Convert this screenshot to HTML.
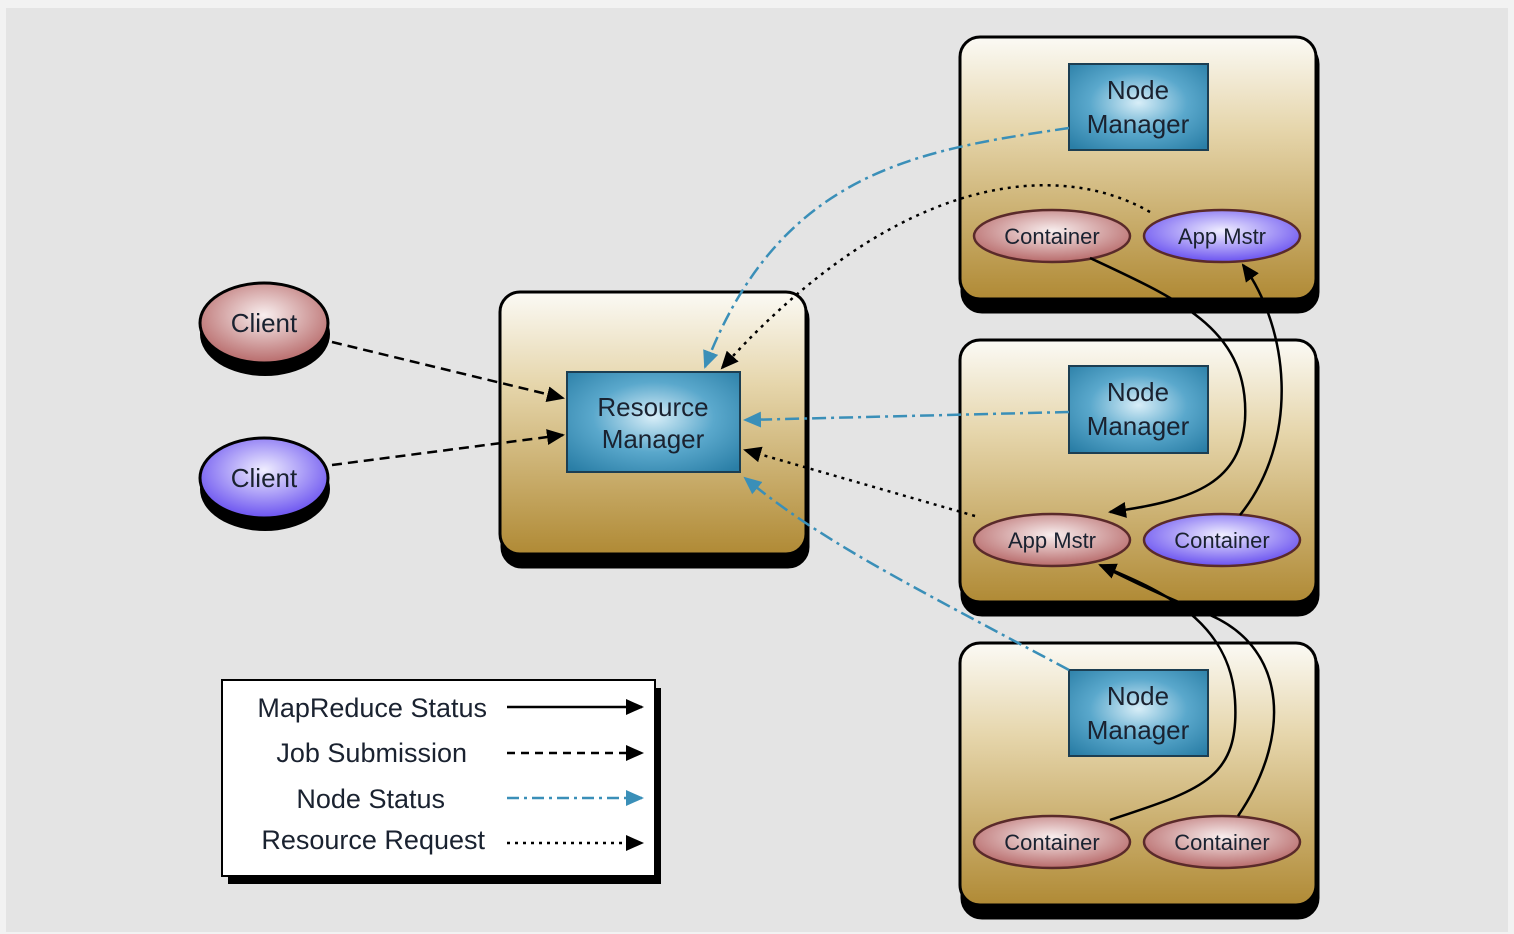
<!DOCTYPE html>
<html><head><meta charset="utf-8"><style>
html,body{margin:0;padding:0;background:#e4e4e4}
svg{display:block}
text{font-family:"Liberation Sans",sans-serif;fill:#1a2230}
</style></head><body>
<svg width="1514" height="934" viewBox="0 0 1514 934" xmlns="http://www.w3.org/2000/svg">
<defs>
<linearGradient id="gold" x1="0" y1="0" x2="0" y2="1">
<stop offset="0" stop-color="#fbfaf5"/><stop offset="0.35" stop-color="#e6d6ac"/><stop offset="1" stop-color="#b08a35"/></linearGradient>
<radialGradient id="blue" cx="0.5" cy="0.45" r="0.7">
<stop offset="0" stop-color="#d8eef8"/><stop offset="0.5" stop-color="#5aa8cc"/><stop offset="1" stop-color="#2a7ea6"/></radialGradient>
<radialGradient id="red" cx="0.5" cy="0.4" r="0.6">
<stop offset="0" stop-color="#f8eeee"/><stop offset="1" stop-color="#b86b6b"/></radialGradient>
<radialGradient id="pur" cx="0.5" cy="0.4" r="0.6">
<stop offset="0" stop-color="#f0eeff"/><stop offset="1" stop-color="#6a52f0"/></radialGradient>
<marker id="ak" markerWidth="18" markerHeight="18" refX="16" refY="9" orient="auto" markerUnits="userSpaceOnUse" viewBox="0 0 18 18"><path d="M0,1 L18,9 L0,17 z" fill="#000"/></marker>
<marker id="akb" markerWidth="18" markerHeight="18" refX="16" refY="9" orient="auto" markerUnits="userSpaceOnUse" viewBox="0 0 18 18"><path d="M0,1 L18,9 L0,17 z" fill="#3a8fb8"/></marker>
</defs>
<rect x="0" y="0" width="1514" height="934" fill="#f2f2f2"/>
<rect x="6" y="8" width="1502" height="924" fill="#e4e4e4"/>

<g stroke="#000" stroke-width="3">
<rect x="502" y="299" width="306" height="268" rx="20" fill="#000"/>
<rect x="500" y="292" width="306" height="262" rx="20" fill="url(#gold)"/>
<rect x="962" y="44" width="356" height="268" rx="20" fill="#000"/>
<rect x="960" y="37" width="356" height="262" rx="20" fill="url(#gold)"/>
<rect x="962" y="347" width="356" height="268" rx="20" fill="#000"/>
<rect x="960" y="340" width="356" height="262" rx="20" fill="url(#gold)"/>
<rect x="962" y="650" width="356" height="268" rx="20" fill="#000"/>
<rect x="960" y="643" width="356" height="262" rx="20" fill="url(#gold)"/>
</g>
<g stroke="#1c3e52" stroke-width="2" fill="url(#blue)">
<rect x="567" y="372" width="173" height="100"/>
<rect x="1069" y="64" width="139" height="86"/>
<rect x="1069" y="366" width="139" height="87"/>
<rect x="1069" y="670" width="139" height="86"/>
</g>
<g font-size="26" text-anchor="middle">
<text x="653" y="416">Resource</text><text x="653" y="448">Manager</text>
<text x="1138" y="99">Node</text><text x="1138" y="133">Manager</text>
<text x="1138" y="401">Node</text><text x="1138" y="435">Manager</text>
<text x="1138" y="705">Node</text><text x="1138" y="739">Manager</text>
</g>

<ellipse cx="265" cy="334" rx="65" ry="42" fill="#000"/>
<ellipse cx="264" cy="323" rx="64" ry="40" fill="url(#red)" stroke="#000" stroke-width="3"/>
<ellipse cx="265" cy="489" rx="65" ry="42" fill="#000"/>
<ellipse cx="264" cy="478" rx="64" ry="40" fill="url(#pur)" stroke="#000" stroke-width="3"/>
<text x="264" y="332" font-size="26" text-anchor="middle">Client</text>
<text x="264" y="487" font-size="26" text-anchor="middle">Client</text>

<g stroke="#5a2a2a" stroke-width="2.5">
<ellipse cx="1052" cy="236" rx="78" ry="26" fill="url(#red)"/>
<ellipse cx="1222" cy="236" rx="78" ry="26" fill="url(#pur)"/>
<ellipse cx="1052" cy="540" rx="78" ry="26" fill="url(#red)"/>
<ellipse cx="1222" cy="540" rx="78" ry="26" fill="url(#pur)"/>
<ellipse cx="1052" cy="842" rx="78" ry="26" fill="url(#red)"/>
<ellipse cx="1222" cy="842" rx="78" ry="26" fill="url(#red)"/>
</g>
<g font-size="22" text-anchor="middle">
<text x="1052" y="244">Container</text><text x="1222" y="244">App Mstr</text>
<text x="1052" y="548">App Mstr</text><text x="1222" y="548">Container</text>
<text x="1052" y="850">Container</text><text x="1222" y="850">Container</text>
</g>

<g fill="none" stroke-width="2.5">
<path d="M332,342 L563,398" stroke="#000" stroke-dasharray="10,6" marker-end="url(#ak)"/>
<path d="M332,465 L563,435" stroke="#000" stroke-dasharray="10,6" marker-end="url(#ak)"/>
<path d="M1069,128 C920,150 780,170 705,367" stroke="#3a8fb8" stroke-dasharray="14,5,3,5" marker-end="url(#akb)"/>
<path d="M1150,212 C1060,160 900,170 722,368" stroke="#000" stroke-dasharray="3,5" marker-end="url(#ak)"/>
<path d="M1069,412 L745,420" stroke="#3a8fb8" stroke-dasharray="14,5,3,5" marker-end="url(#akb)"/>
<path d="M975,516 L745,450" stroke="#000" stroke-dasharray="3,5" marker-end="url(#ak)"/>
<path d="M1069,670 C900,580 820,540 745,478" stroke="#3a8fb8" stroke-dasharray="14,5,3,5" marker-end="url(#akb)"/>
<path d="M1090,258 C1180,300 1250,330 1245,420 C1240,480 1200,500 1110,512" stroke="#000" marker-end="url(#ak)"/>
<path d="M1240,515 C1300,440 1290,330 1243,265" stroke="#000" marker-end="url(#ak)"/>
<path d="M1110,820 C1200,790 1240,780 1235,700 C1230,620 1160,590 1100,565" stroke="#000" marker-end="url(#ak)"/>
<path d="M1238,816 C1290,740 1290,650 1210,615 C1160,595 1130,580 1106,568" stroke="#000"/>
</g>

<rect x="228" y="688" width="433" height="196" fill="#000"/>
<rect x="222" y="680" width="433" height="196" fill="#fff" stroke="#000" stroke-width="2"/>
<g font-size="27" text-anchor="end">
<text x="487" y="717">MapReduce Status</text>
<text x="467" y="762">Job Submission</text>
<text x="445" y="808">Node Status</text>
<text x="485" y="849">Resource Request</text>
</g>
<g fill="none" stroke-width="2.5">
<path d="M507,707 L642,707" stroke="#000" marker-end="url(#ak)"/>
<path d="M507,753 L642,753" stroke="#000" stroke-dasharray="8,6" marker-end="url(#ak)"/>
<path d="M507,798 L642,798" stroke="#3a8fb8" stroke-dasharray="12,5,3,5" marker-end="url(#akb)"/>
<path d="M507,843 L642,843" stroke="#000" stroke-dasharray="3,5" marker-end="url(#ak)"/>
</g>
</svg>
</body></html>
